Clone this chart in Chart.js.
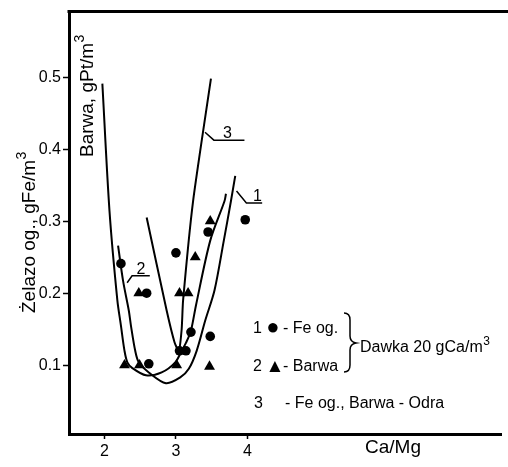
<!DOCTYPE html>
<html><head><meta charset="utf-8">
<script src="https://cdn.jsdelivr.net/npm/chart.js@4"></script>
<style>html,body{margin:0;padding:0;background:#fff}canvas{display:block}</style>
</head><body>
<canvas id="c" width="508" height="467"></canvas>
<script>
// ---- data ----
const xTicks = [2, 3, 4];
const yTicks = [0.1, 0.2, 0.3, 0.4, 0.5];

// 1 ● Fe og.
const feX = [2.23, 2.59, 2.62, 3.00, 3.05, 3.14, 3.21, 3.45, 3.48, 3.97];
const feY = [0.241, 0.200, 0.102, 0.256, 0.120, 0.120, 0.146, 0.285, 0.140, 0.302];
// 2 ▲ Barwa
const barwaX = [2.28, 2.49, 2.48, 3.01, 3.05, 3.17, 3.27, 3.47, 3.48];
const barwaY = [0.100, 0.100, 0.200, 0.100, 0.200, 0.200, 0.250, 0.098, 0.300];

// fitted curves
const curve1X = [1.97, 2.07, 2.18, 2.23, 2.28, 2.32, 2.39, 2.58, 2.80, 2.99, 3.08, 3.14, 3.21, 3.28, 3.48, 3.68, 3.70];
const curve1Y = [0.491, 0.314, 0.190, 0.155, 0.120, 0.104, 0.096, 0.086, 0.090, 0.104, 0.120, 0.131, 0.148, 0.183, 0.273, 0.328, 0.338];
const curve2X = [2.19, 2.26, 2.34, 2.37, 2.43, 2.48, 2.62, 2.86, 3.06, 3.18, 3.29, 3.41, 3.54, 3.67, 3.77, 3.83];
const curve2Y = [0.266, 0.217, 0.176, 0.155, 0.120, 0.104, 0.090, 0.075, 0.083, 0.095, 0.120, 0.162, 0.204, 0.273, 0.328, 0.363];
const curve3X = [2.59, 2.87, 2.98, 3.04, 3.08, 3.10, 3.24, 3.49];
const curve3Y = [0.305, 0.176, 0.132, 0.120, 0.150, 0.190, 0.328, 0.498];

// label leaders (data units)
const leader1X = [3.848, 3.986, 4.207], leader1Y = [0.3419, 0.3253, 0.3253];
const leader2X = [2.317, 2.386, 2.634], leader2Y = [0.2145, 0.2242, 0.2242];
const leader3X = [3.407, 3.531, 3.959], leader3Y = [0.4235, 0.4125, 0.4125];
const curveLabels = [
  {text: '1', x: 4.14, y: 0.328},
  {text: '2', x: 2.51, y: 0.227},
  {text: '3', x: 3.72, y: 0.415}
];

const FONT = "'Liberation Sans', Arial, sans-serif";
const NARROW = "'Liberation Sans Narrow', 'Liberation Sans', Arial, sans-serif";

const pts = (xs, ys) => xs.map((x, i) => ({x, y: ys[i]}));
const lineDs = (xs, ys, w, t) => ({data: pts(xs, ys), showLine: true, pointRadius: 0, borderColor: '#000', borderWidth: w, tension: t, fill: false});

function drawSup(ctx, text, sup, x, y, size) {
  ctx.font = size + 'px ' + FONT;
  ctx.fillText(text, x, y);
  const w = ctx.measureText(text).width;
  ctx.font = Math.round(size * 0.72) + 'px ' + FONT;
  ctx.fillText(sup, x + w + 0.5, y - size * 0.45);
}

const decor = {
  id: 'decor',
  afterDraw(chart) {
    const ctx = chart.ctx, a = chart.chartArea;
    const xs = chart.scales.x, ys = chart.scales.y;
    ctx.save();
    ctx.fillStyle = '#000'; ctx.strokeStyle = '#000';
    // top frame line
    ctx.lineWidth = 3;
    ctx.beginPath(); ctx.moveTo(a.left - 1.5, a.top); ctx.lineTo(chart.width, a.top); ctx.stroke();
    // rotated axis titles
    ctx.textAlign = 'left'; ctx.textBaseline = 'alphabetic';
    ctx.save(); ctx.translate(35, 313); ctx.rotate(-Math.PI / 2);
    drawSup(ctx, 'Żelazo og., gFe/m', '3', 0, 0, 19); ctx.restore();
    ctx.save(); ctx.translate(93, 157); ctx.rotate(-Math.PI / 2);
    drawSup(ctx, 'Barwa, gPt/m', '3', 0, 0, 19); ctx.restore();
    // x title
    ctx.font = '19px ' + FONT;
    ctx.fillText('Ca/Mg', 365, 453);
    // curve labels
    ctx.font = '16px ' + FONT; ctx.textAlign = 'center';
    curveLabels.forEach(l => ctx.fillText(l.text, xs.getPixelForValue(l.x), ys.getPixelForValue(l.y)));
    // legend block
    ctx.textAlign = 'left';
    ctx.font = '16px ' + FONT;
    ctx.fillText('1', 253, 333);
    ctx.fillText('- Fe og.', 283, 333);
    ctx.fillText('2', 253, 371);
    ctx.fillText('- Barwa', 283, 371);
    ctx.fillText('3', 254, 408);
    ctx.fillText('- Fe og., Barwa - Odra', 285, 408);
    ctx.textAlign = 'center';
    ctx.font = '22px ' + FONT;
    ctx.fillText('●', 273, 334);
    ctx.font = '19px ' + FONT;
    ctx.fillText('▲', 275, 372);
    ctx.textAlign = 'left';
    drawSup(ctx, 'Dawka 20 gCa/m', '3', 360, 352, 16);
    // brace
    ctx.lineWidth = 1.5;
    ctx.beginPath();
    ctx.moveTo(344, 313);
    ctx.quadraticCurveTo(350, 313, 350, 320);
    ctx.lineTo(350, 336);
    ctx.quadraticCurveTo(350, 342, 356, 343);
    ctx.quadraticCurveTo(350, 344, 350, 350);
    ctx.lineTo(350, 365);
    ctx.quadraticCurveTo(350, 372, 344, 372);
    ctx.stroke();
    ctx.restore();
  }
};

new Chart(document.getElementById('c'), {
  type: 'scatter',
  data: {
    datasets: [
      lineDs(curve1X, curve1Y, 2, 0.3),
      lineDs(curve2X, curve2Y, 2, 0.3),
      lineDs(curve3X, curve3Y, 2, 0.2),
      lineDs(leader1X, leader1Y, 1.5, 0),
      lineDs(leader2X, leader2Y, 1.5, 0),
      lineDs(leader3X, leader3Y, 1.5, 0),
      {data: pts(feX, feY), pointStyle: 'circle', pointRadius: 4.8, backgroundColor: '#000', borderColor: '#000', borderWidth: 0, showLine: false},
      {data: pts(barwaX, barwaY), pointStyle: 'triangle', pointRadius: 6.3, backgroundColor: '#000', borderColor: '#000', borderWidth: 0, showLine: false}
    ]
  },
  options: {
    responsive: false, animation: false,
    layout: {padding: {top: 10, right: 0, left: 0, bottom: 0}},
    plugins: {legend: {display: false}, tooltip: {enabled: false}},
    scales: {
      x: {
        type: 'linear', position: 'bottom', min: 1.503, max: 7.56,
        afterFit: s => { s.height = 33; },
        afterBuildTicks: s => { s.ticks = xTicks.map(v => ({value: v})); },
        ticks: {color: '#000', font: {family: NARROW, size: 16}, padding: 3, maxRotation: 0, autoSkip: false, callback: v => String(v)},
        grid: {drawOnChartArea: false, drawTicks: true, tickLength: 5, tickWidth: 1.5, tickColor: '#000'},
        border: {display: true, color: '#000', width: 3}
      },
      y: {
        type: 'linear', position: 'left', min: 0.0045, max: 0.591,
        afterFit: s => { s.width = 69; },
        afterBuildTicks: s => { s.ticks = yTicks.map(v => ({value: v})); },
        ticks: {color: '#000', font: {family: NARROW, size: 16}, padding: 2, autoSkip: false, callback: v => v.toFixed(1)},
        grid: {drawOnChartArea: false, drawTicks: true, tickLength: 6, tickWidth: 1.5, tickColor: '#000'},
        border: {display: true, color: '#000', width: 3}
      }
    }
  },
  plugins: [decor]
});
</script>
</body></html>
